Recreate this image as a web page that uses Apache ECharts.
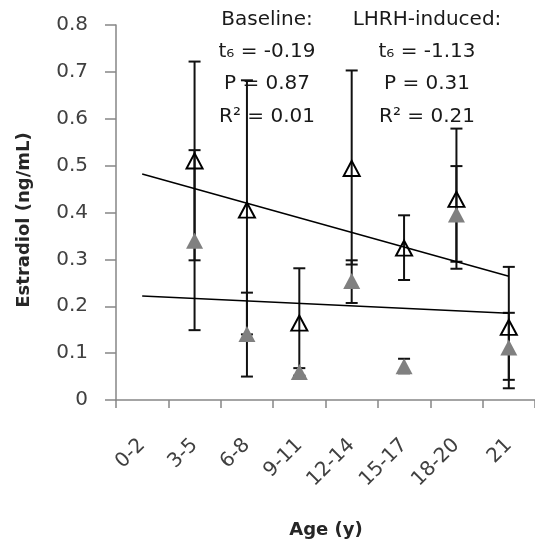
<!DOCTYPE html>
<html>
<head>
<meta charset="utf-8">
<script src="https://cdn.jsdelivr.net/npm/echarts@6/dist/echarts.min.js"></script>
<style>html,body{margin:0;padding:0;background:#fff}#c{width:535px;height:546px}</style>
</head>
<body>
<div id="c"></div>
<script>
const categories = ['0-2', '3-5', '6-8', '9-11', '12-14', '15-17', '18-20', '21'];
const yTicks = [0, 0.1, 0.2, 0.3, 0.4, 0.5, 0.6, 0.7, 0.8];
const lhrhMean = [null, 0.510, 0.405, 0.164, 0.494, 0.324, 0.428, 0.155];
const lhrhLow  = [null, 0.298, 0.140, 0.050, 0.289, 0.256, 0.280, 0.025];
const lhrhHigh = [null, 0.722, 0.682, 0.281, 0.703, 0.394, 0.579, 0.284];
const baseMean = [null, 0.340, 0.141, 0.060, 0.254, 0.072, 0.396, 0.112];
const baseLow  = [null, 0.149, 0.050, 0.052, 0.207, 0.057, 0.295, 0.043];
const baseHigh = [null, 0.533, 0.229, 0.068, 0.298, 0.088, 0.499, 0.186];
const lhrhTrend = [0.482, 0.264];
const baseTrend = [0.222, 0.185];
const trendEnds = ['0-2', '21'];
const statsBaseline = ['Baseline:', 't\u2086 = -0.19', 'P = 0.87', 'R\u00b2 = 0.01'];
const statsLHRH = ['LHRH-induced:', 't\u2086 = -1.13', 'P = 0.31', 'R\u00b2 = 0.21'];

const FONT = 'DejaVu Sans';
const chart = echarts.init(document.getElementById('c'));

function errData(low, high) {
  const out = [];
  categories.forEach((c, i) => { if (low[i] != null) out.push([i, low[i], high[i]]); });
  return out;
}
function scatterData(mean) {
  return categories.map((c, i) => mean[i] == null ? '-' : mean[i]);
}
function renderErr(params, api) {
  const i = api.value(0);
  const lo = api.coord([i, api.value(1)]);
  const hi = api.coord([i, api.value(2)]);
  const hw = 6;
  const st = { stroke: '#111', lineWidth: 2 };
  return {
    type: 'group',
    children: [
      { type: 'line', shape: { x1: lo[0], y1: lo[1], x2: hi[0], y2: hi[1] }, style: st },
      { type: 'line', shape: { x1: lo[0] - hw, y1: lo[1], x2: lo[0] + hw, y2: lo[1] }, style: st },
      { type: 'line', shape: { x1: hi[0] - hw, y1: hi[1], x2: hi[0] + hw, y2: hi[1] }, style: st }
    ]
  };
}

const textLines = [];
const rowsY = [20, 52, 84, 117];
statsBaseline.forEach((t, k) => textLines.push({
  type: 'text', x: 267, y: rowsY[k],
  style: { text: t, font: '20px "' + FONT + '"', fill: '#1a1a1a', align: 'center', verticalAlign: 'middle' }
}));
statsLHRH.forEach((t, k) => textLines.push({
  type: 'text', x: 427, y: rowsY[k],
  style: { text: t, font: '20px "' + FONT + '"', fill: '#1a1a1a', align: 'center', verticalAlign: 'middle' }
}));
textLines.push({
  type: 'text', x: 24, y: 220, rotation: Math.PI / 2,
  style: { text: 'Estradiol (ng/mL)', font: 'bold 18px "' + FONT + '"', fill: '#262626', align: 'center', verticalAlign: 'middle' }
});
textLines.push({
  type: 'text', x: 326, y: 530,
  style: { text: 'Age (y)', font: 'bold 18px "' + FONT + '"', fill: '#262626', align: 'center', verticalAlign: 'middle' }
});

chart.setOption({
  animation: false,
  backgroundColor: '#fff',
  grid: { left: 116, top: 25, width: 422, height: 375, containLabel: false },
  xAxis: {
    type: 'category', data: categories, boundaryGap: true,
    axisLine: { lineStyle: { color: '#868686', width: 1.5 } },
    axisTick: { show: true, interval: 0, length: 8, lineStyle: { color: '#868686', width: 1.5 } },
    axisLabel: { interval: 0, rotate: 45, margin: 42, fontFamily: FONT, fontSize: 20, color: '#404040' },
    splitLine: { show: false }
  },
  yAxis: {
    type: 'value', min: 0, max: 0.8, interval: 0.1,
    axisLine: { show: true, lineStyle: { color: '#868686', width: 1.5 } },
    axisTick: { show: true, length: 11, lineStyle: { color: '#868686', width: 1.5 } },
    axisLabel: {
      margin: 28, fontFamily: FONT, fontSize: 20, color: '#404040',
      formatter: v => { const t = yTicks.find(x => Math.abs(x - v) < 1e-9); return t === 0 ? '0' : (t != null ? t.toFixed(1) : ''); }
    },
    splitLine: { show: false }
  },
  graphic: textLines,
  series: [
    { type: 'custom', name: 'LHRH err', data: errData(lhrhLow, lhrhHigh), renderItem: renderErr, encode: { x: 0, y: [1, 2] }, z: 2 },
    { type: 'custom', name: 'Base err', data: errData(baseLow, baseHigh), renderItem: renderErr, encode: { x: 0, y: [1, 2] }, z: 2 },
    { type: 'line', name: 'LHRH trend', data: trendEnds.map((c, k) => [c, lhrhTrend[k]]), symbol: 'none', lineStyle: { color: '#000', width: 1.5 }, z: 3 },
    { type: 'line', name: 'Base trend', data: trendEnds.map((c, k) => [c, baseTrend[k]]), symbol: 'none', lineStyle: { color: '#000', width: 1.5 }, z: 3 },
    { type: 'scatter', name: 'Baseline', data: scatterData(baseMean), symbol: 'triangle', symbolSize: [17, 16], itemStyle: { color: '#808080', opacity: 1 }, z: 4 },
    { type: 'scatter', name: 'LHRH-induced', data: scatterData(lhrhMean), symbol: 'triangle', symbolSize: [16, 15], itemStyle: { color: 'rgba(255,255,255,0)', borderColor: '#000', borderWidth: 2, opacity: 1 }, z: 5 }
  ]
});
</script>
</body>
</html>
